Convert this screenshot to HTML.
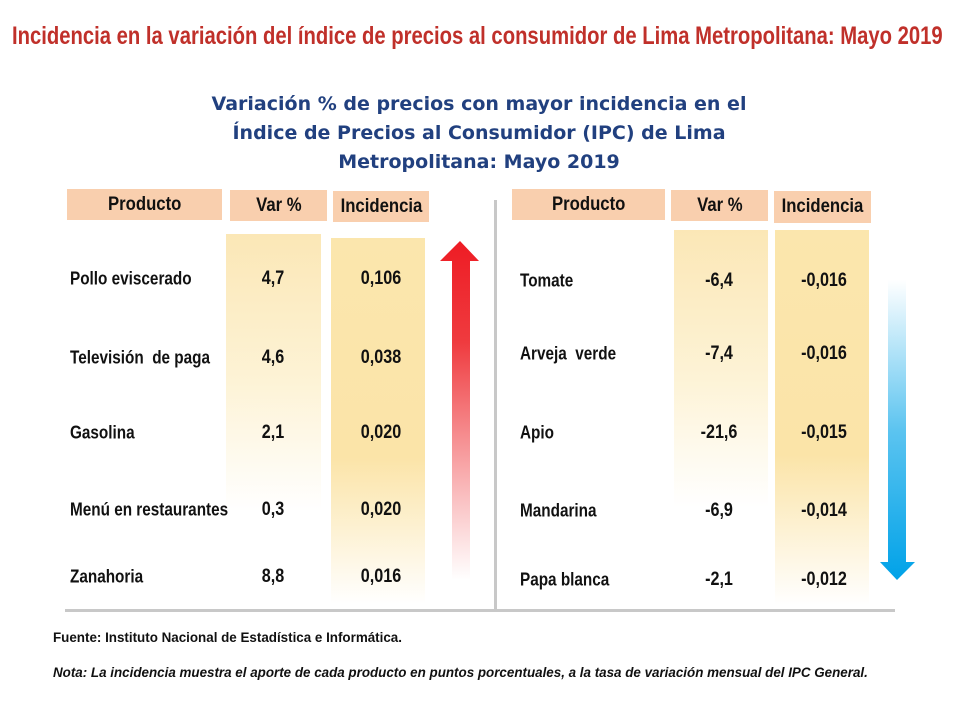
<!DOCTYPE html>
<html><head><meta charset="utf-8"><style>
body{margin:0;width:980px;height:721px;background:#fff;position:relative;overflow:hidden;font-family:"Liberation Sans",sans-serif;}
.a{position:absolute;white-space:nowrap;}
.t{font-weight:bold;color:#111;font-size:18px;transform:translateY(-50%) scaleX(0.85);transform-origin:left center;}
.c{font-size:19px;transform:translate(-50%,-50%) scaleX(0.85);transform-origin:center center;}
.h{position:absolute;background:#f9cfae;display:flex;align-items:center;justify-content:center;font-weight:bold;font-size:19px;color:#111;}
.h span{display:inline-block;transform:scaleX(0.88);}
.col{position:absolute;background:linear-gradient(180deg,#fbe7b6 0%,#fdf3d6 40%,#fff 75%);}
.col2{position:absolute;background:linear-gradient(180deg,#fbe6ad 0%,#fbe4a8 60%,#fff 100%);}
</style></head><body>
<div class="a" style="left:12px;top:22px;font-size:25px;font-weight:bold;color:#c0302a;transform:scaleX(0.81);transform-origin:left top">Incidencia en la variación del índice de precios al consumidor de Lima Metropolitana: Mayo 2019</div>
<div class="a" style="left:0;width:958px;top:90px;text-align:center;font-family:'DejaVu Sans',sans-serif;font-weight:bold;font-size:19px;line-height:29px;color:#21407f;white-space:normal">Variación % de precios con mayor incidencia en el<br>Índice de Precios al Consumidor (IPC) de Lima<br>Metropolitana: Mayo 2019</div>

<div class="h" style="left:67px;top:189px;width:155px;height:31px"><span>Producto</span></div>
<div class="h" style="left:230px;top:190px;width:97px;height:31px"><span>Var %</span></div>
<div class="h" style="left:333px;top:191px;width:96px;height:31px"><span>Incidencia</span></div>
<div class="col" style="left:226px;top:234px;width:95px;height:370px"></div>
<div class="col2" style="left:331px;top:238px;width:94px;height:366px"></div>

<div class="h" style="left:512px;top:189px;width:153px;height:31px"><span>Producto</span></div>
<div class="h" style="left:671px;top:190px;width:97px;height:31px"><span>Var %</span></div>
<div class="h" style="left:774px;top:191px;width:97px;height:32px"><span>Incidencia</span></div>
<div class="col" style="left:674px;top:230px;width:94px;height:370px"></div>
<div class="col2" style="left:775px;top:230px;width:94px;height:375px"></div>

<div class="a" style="left:494px;top:200px;width:3px;height:410px;background:#c8c8c8"></div>
<div class="a" style="left:65px;top:609px;width:830px;height:3px;background:#c8c8c8"></div>

<svg class="a" style="left:0;top:0" width="980" height="721">
<defs>
<linearGradient id="rg" x1="0" y1="0" x2="0" y2="1"><stop offset="0" stop-color="#ee1c24"/><stop offset="0.3" stop-color="#ef3b3f"/><stop offset="1" stop-color="#fff" stop-opacity="0.9"/></linearGradient>
<linearGradient id="bg" x1="0" y1="0" x2="0" y2="1"><stop offset="0" stop-color="#fff"/><stop offset="0.5" stop-color="#5cc4f0"/><stop offset="1" stop-color="#00a2e8"/></linearGradient>
</defs>
<polygon points="460,241 479,261 470,261 470,580 452,580 452,261 440,261" fill="url(#rg)"/>
<polygon points="888,280 906,280 906,562 915,562 897,580 880,562 888,562" fill="url(#bg)"/>
</svg>

<div id="rows"></div>

<div class="a" style="left:53px;top:630px;font-weight:bold;font-size:13.4px;color:#111">Fuente: Instituto Nacional de Estadística e Informática.</div>
<div class="a" style="left:53px;top:665px;font-weight:bold;font-style:italic;font-size:13.4px;color:#111">Nota: La incidencia muestra el aporte de cada producto en puntos porcentuales, a la tasa de variación mensual del IPC General.</div>

<script>
const leftProducts=["Pollo eviscerado","Televisión  de paga","Gasolina","Menú en restaurantes","Zanahoria"];
const leftVar=["4,7","4,6","2,1","0,3","8,8"];
const leftInc=["0,106","0,038","0,020","0,020","0,016"];
const rightProducts=["Tomate","Arveja  verde","Apio","Mandarina","Papa blanca"];
const rightVar=["-6,4","-7,4","-21,6","-6,9","-2,1"];
const rightInc=["-0,016","-0,016","-0,015","-0,014","-0,012"];
const leftY=[279,358,433,510,577];
const rightY=[281,354,433,511,580];
const root=document.getElementById('rows');
function txt(s,x,y,center,name){
  const d=document.createElement('div');
  d.className='a t'+(center?' c':'');
  d.textContent=s;
  d.style.whiteSpace='pre';
  d.style.left=x+'px';d.style.top=y+'px';
  
  
  root.appendChild(d);
}
leftProducts.forEach((p,i)=>{
  txt(p,70,leftY[i],false,'left-product-label');
  txt(leftVar[i],273,leftY[i],true,'left-var-value');
  txt(leftInc[i],381,leftY[i],true,'left-incidencia-value');
});
rightProducts.forEach((p,i)=>{
  txt(p,520,rightY[i],false,'right-product-label');
  txt(rightVar[i],719,rightY[i],true,'right-var-value');
  txt(rightInc[i],824,rightY[i],true,'right-incidencia-value');
});
</script>
</body></html>
